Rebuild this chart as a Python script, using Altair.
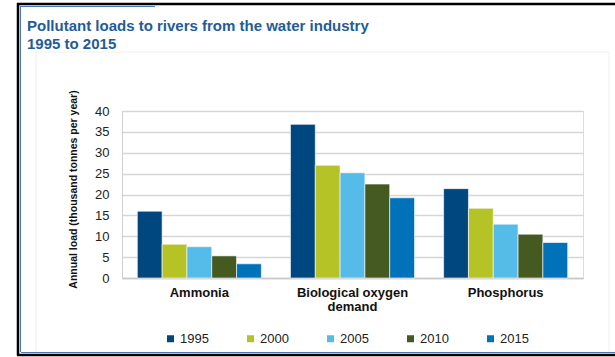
import altair as alt
import pandas as pd

pollutants = ["Ammonia", "Biological oxygen demand", "Phosphorus"]
years = ["1995", "2000", "2005", "2010", "2015"]
loads_1995 = [16.0, 36.8, 21.4]
loads_2000 = [8.1, 27.0, 16.7]
loads_2005 = [7.5, 25.2, 12.9]
loads_2010 = [5.3, 22.5, 10.5]
loads_2015 = [3.4, 19.2, 8.5]
colors = ["#00467F", "#B5C327", "#55BBE8", "#445A20", "#0072BA"]

series = [loads_1995, loads_2000, loads_2005, loads_2010, loads_2015]
rows = []
for yr, vals in zip(years, series):
    for p, v in zip(pollutants, vals):
        rows.append({"pollutant": p, "year": yr, "load": v})
df = pd.DataFrame(rows)

FONT = "Liberation Sans"

bars = alt.Chart(df).mark_bar(stroke="white", strokeWidth=0.6).encode(
    x=alt.X("pollutant:N", sort=pollutants,
            scale=alt.Scale(paddingInner=0.19, paddingOuter=0.1),
            axis=alt.Axis(title=None, labelAngle=0, ticks=False,
                          domainColor="#c8c8c8", domainWidth=1.5,
                          labelFont=FONT, labelFontSize=13, labelFontWeight="bold",
                          labelColor="#111111", labelPadding=8, labelLineHeight=14,
                          labelExpr="datum.value == 'Biological oxygen demand' ? ['Biological oxygen', 'demand'] : datum.value")),
    xOffset=alt.XOffset("year:N", sort=years, scale=alt.Scale(paddingInner=0, paddingOuter=0)),
    y=alt.Y("load:Q", scale=alt.Scale(domain=[0, 40]),
            axis=alt.Axis(title="Annual load (thousand tonnes per year)", values=[0, 5, 10, 15, 20, 25, 30, 35, 40],
                          ticks=False, domainColor="#d0d0d0", gridColor="#d6d6d6", gridWidth=1.5,
                          labelFont=FONT, labelFontSize=13, labelColor="#222222", labelPadding=13,
                          titleFont=FONT, titleFontSize=10.5, titleFontWeight="bold", titleColor="#111111",
                          titleAngle=270, titleX=-49, titleY=78, titleBaseline="middle", titleAlign="center")),
    color=alt.Color("year:N", sort=years, scale=alt.Scale(domain=years, range=colors),
                    legend=alt.Legend(orient="none", legendX=42, legendY=221, direction="horizontal",
                                      title=None, symbolType="square", symbolSize=49, symbolStrokeWidth=0,
                                      labelFont=FONT, labelFontSize=13, labelColor="#222222",
                                      columnPadding=35, padding=0, labelOffset=3)),
)

def rule(x, x2, y, y2, color, width):
    return alt.Chart(alt.Data(values=[{"a": 1}])).mark_rule(color=color, strokeWidth=width).encode(
        x=alt.value(x), x2=alt.value(x2), y=alt.value(y), y2=alt.value(y2))

# frame decoration (pixel offsets relative to plot origin at 122,111)
frame = [
    rule(-86, -86, -59, 242, "#eeeeee", 1),
    rule(-86, 487, -59, -59, "#eeeeee", 1),
    rule(487, 487, -59, 242, "#eeeeee", 1),
    rule(-101.5, -101.5, -105, 241, "#4a78b0", 1),
    rule(-101, 493, 241.5, 241.5, "#4a78b0", 1),
    rule(-101, 33, -104.5, -104.5, "#4a78b0", 1),
    rule(-104, -104, -108, 244.5, "#000000", 2.5),
    rule(-105, 493, -107, -107, "#000000", 2.5),
    rule(-105, 493, 244, 244, "#000000", 2.5),
]

chart = alt.layer(*frame, bars).properties(
    width=461, height=167,
    autosize=alt.AutoSizeParams(type="none"),
    padding={"left": 122, "top": 111, "right": 32, "bottom": 79},
    title=alt.Title(["Pollutant loads to rivers from the water industry", "1995 to 2015"],
                    anchor="start", frame="group", dx=-95, offset=-50,
                    font=FONT, fontSize=15, fontWeight="bold", color="#1F5C99", lineHeight=18),
).configure_view(stroke=None).configure(background="white")

chart.save("out.html", embed_options={"renderer": "svg", "actions": False})
